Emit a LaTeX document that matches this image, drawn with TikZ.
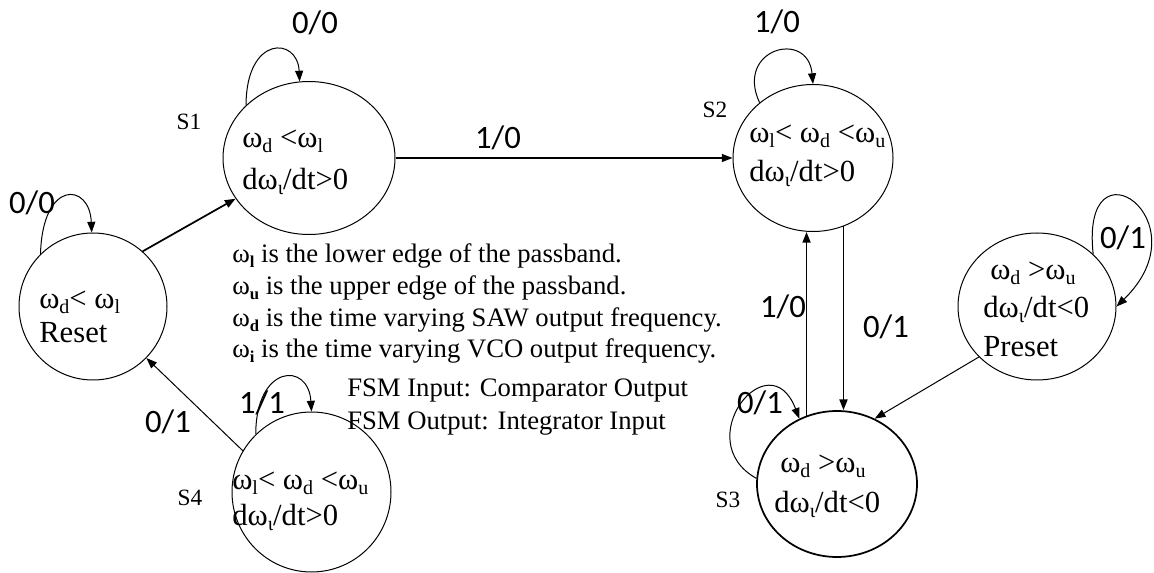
\documentclass[tikz,border=0pt]{standalone}
\usepackage{fontspec}
\setmainfont{Liberation Serif}
\newfontfamily\lblfont{Carlito}
\usetikzlibrary{shapes.geometric,arrows.meta}
\newcommand\sbx[1]{\raisebox{-0.3ex}{\fontsize{15}{15}\selectfont #1}}
\newcommand\sbl[1]{\raisebox{-0.35ex}{\fontsize{12.5}{12.5}\selectfont\bfseries #1}}
\begin{document}
\begin{tikzpicture}[x=0.75pt,y=0.75pt,
  state/.style={draw, ellipse, inner sep=0pt, line width=0.75pt},
  st/.style={anchor=base west, inner sep=0pt, font=\fontsize{23}{27}\selectfont},
  leg/.style={anchor=base west, inner sep=0pt, font=\fontsize{20}{24}\selectfont},
  lbl/.style={inner sep=0pt, font=\lblfont\fontsize{24.5}{28}\selectfont},
  sname/.style={inner sep=0pt, font=\fontsize{17.5}{20}\selectfont},
  tr/.style={-{Triangle[length=8pt,width=6pt]}, line width=0.75pt},
  trb/.style={-{Triangle[length=8pt,width=6pt]}, line width=1.3pt},
]
\useasboundingbox (0,0) rectangle (1154,-573);
% states
\node[state, minimum width=111pt, minimum height=110.25pt] (Reset) at (93,-306.5) {};
\node[state, minimum width=129pt, minimum height=114.75pt] (S1) at (309,-158) {};
\node[state, minimum width=120pt, minimum height=110.25pt] (S2) at (813,-158) {};
\node[state, minimum width=118.5pt, minimum height=110.25pt] (Preset) at (1037,-306.5) {};
\node[state, line width=1.3pt, minimum width=120pt, minimum height=109.5pt] (S3) at (837,-484) {};
\node[state, minimum width=119.25pt, minimum height=120pt] (S4) at (311.5,-492) {};
% state texts
\node[st] (tR1) at (39,-309) {ω\sbx{d}< ω\sbx{l}};
\node[st] (tR2) at (39,-343) {Reset};
\node[st] (t11) at (242,-148) {ω\sbx{d} <ω\sbx{l}};
\node[st] (t12) at (242,-190) {dω\sbx{ι}/dt>0};
\node[st] (t21) at (749,-143) {ω\sbx{l}< ω\sbx{d} <ω\sbx{u}};
\node[st] (t22) at (749,-182) {dω\sbx{ι}/dt>0};
\node[st] (tP1) at (990,-280) {ω\sbx{d} >ω\sbx{u}};
\node[st] (tP2) at (983,-318) {dω\sbx{ι}/dt<0};
\node[st] (tP3) at (983,-357) {Preset};
\node[st] (t31) at (780,-473) {ω\sbx{d} >ω\sbx{u}};
\node[st] (t32) at (774,-513) {dω\sbx{ι}/dt<0};
\node[st] (t41) at (232,-490) {ω\sbx{l}< ω\sbx{d} <ω\sbx{u}};
\node[st] (t42) at (232,-526) {dω\sbx{ι}/dt>0};
% state names
\node[sname] (n1) at (189,-122) {S1};
\node[sname] (n2) at (715,-110) {S2};
\node[sname] (n3) at (728,-500) {S3};
\node[sname] (n4) at (190,-498) {S4};
% legend
\node[leg] (g1) at (232,-263) {ω\sbl{l} is the lower edge of the passband.};
\node[leg] (g2) at (232,-295) {ω\sbl{u} is the upper edge of the passband.};
\node[leg] (g3) at (232,-327) {ω\sbl{d} is the time varying SAW output frequency.};
\node[leg] (g4) at (232,-358) {ω\sbl{i} is the time varying VCO output frequency.};
\node[leg] (g5) at (347,-397) {FSM Input: Comparator Output};
\node[leg] (g6) at (347,-430) {FSM Output: Integrator Input};
% self loops
\draw[tr] (Reset.135) .. controls +(2,75) and +(-2,50) .. (Reset.91);
\draw[tr] (S1.140) .. controls +(0,70) and +(-2,45) .. (S1.97);
\draw[tr] (S2.134) .. controls +(-25,54) and +(-5,55) .. (S2.90);
\draw[tr] (S4.134) .. controls +(0,70) and +(-3,50) .. (S4.90);
\draw[tr] (S3.176) .. controls +(-68,38) and +(-30,79) .. (S3.120);
\draw[tr] (Preset.43) .. controls +(-13,120) and +(89,86.5) .. (Preset.0);
% transitions
\draw[trb] (Reset.48) -- (S1.209);
\draw[tr, line width=1pt] (S1.east) -- (S2.west);
\draw[trb] (S3.114) -- (S3.114 |- S2.south);
\draw[trb] (S2.294) -- (S2.294 |- S3.north);
\draw[tr] (Preset.221) -- (S3.60);
\draw[tr] (S4.149) -- (Reset.316);
% labels
\node[lbl] (l1) at (32,-203) {0/0};
\node[lbl] (l2) at (315,-23) {0/0};
\node[lbl] (l3) at (498,-138) {1/0};
\node[lbl] (l4) at (777,-22) {1/0};
\node[lbl] (l5) at (783,-307) {1/0};
\node[lbl] (l6) at (886,-327) {0/1};
\node[lbl] (l7) at (1123,-238) {0/1};
\node[lbl] (l8) at (760,-403) {0/1};
\node[lbl] (l9) at (262,-403) {1/1};
\node[lbl] (l10) at (168,-422) {0/1};
\end{tikzpicture}
\end{document}
